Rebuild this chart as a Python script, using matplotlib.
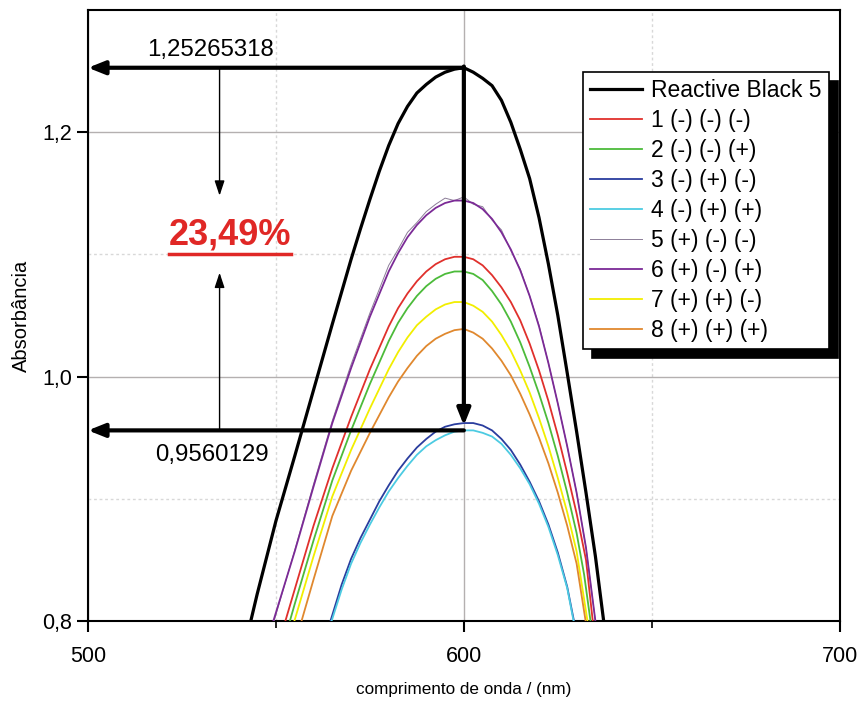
import matplotlib.pyplot as plt
from matplotlib.ticker import FixedLocator, FuncFormatter

plt.rcParams['font.family'] = ['Liberation Sans', 'DejaVu Sans']

# Reactive Black 5 (reference dye)
wl_rb5 = [543.3, 545, 550, 555, 560, 565, 570, 572.5, 575, 577.5, 580, 582.5, 585,
          587.5, 590, 592.5, 595, 597.5, 600, 602.5, 605, 607.5, 610, 612.5, 615,
          617.5, 620, 622.5, 625, 627.5, 630, 632.5, 635, 637.2]
abs_rb5 = [0.800, 0.822, 0.882, 0.935, 0.989, 1.043, 1.096, 1.121, 1.145, 1.168,
           1.189, 1.207, 1.221, 1.232, 1.239, 1.245, 1.249, 1.2515, 1.2527, 1.249,
           1.244, 1.238, 1.226, 1.208, 1.186, 1.162, 1.130, 1.092, 1.050, 1.003,
           0.955, 0.905, 0.853, 0.800]

wl_1 = [552.5, 555, 560, 565, 570, 575, 580, 582.5, 585, 587.5, 590, 592.5, 595,
        597.5, 600, 602.5, 605, 607.5, 610, 612.5, 615, 617.5, 620, 622.5, 625,
        627.5, 630, 632.5, 634.3]
abs_1 = [0.800, 0.826, 0.878, 0.925, 0.967, 1.006, 1.041, 1.056, 1.068, 1.078,
         1.086, 1.092, 1.096, 1.098, 1.098, 1.096, 1.091, 1.083, 1.073, 1.061,
         1.046, 1.027, 1.005, 0.980, 0.952, 0.921, 0.888, 0.850, 0.800]

wl_2 = [553.7, 555, 560, 565, 570, 575, 580, 582.5, 585, 587.5, 590, 592.5, 595,
        597.5, 600, 602.5, 605, 607.5, 610, 612.5, 615, 617.5, 620, 622.5, 625,
        627.5, 630, 632, 633.7]
abs_2 = [0.800, 0.814, 0.866, 0.915, 0.956, 0.994, 1.029, 1.044, 1.056, 1.066,
         1.074, 1.080, 1.084, 1.086, 1.086, 1.084, 1.079, 1.070, 1.059, 1.045,
         1.028, 1.008, 0.986, 0.962, 0.935, 0.905, 0.872, 0.838, 0.800]

wl_3 = [564.5, 567.5, 570, 572.5, 575, 577.5, 580, 582.5, 585, 587.5, 590, 592.5,
        595, 597.5, 600, 602.5, 605, 607.5, 610, 612.5, 615, 617.5, 620, 622.5,
        625, 627.5, 629.3]
abs_3 = [0.800, 0.830, 0.851, 0.868, 0.883, 0.898, 0.911, 0.923, 0.933, 0.942,
         0.949, 0.955, 0.959, 0.961, 0.962, 0.962, 0.960, 0.956, 0.949, 0.940,
         0.928, 0.914, 0.898, 0.879, 0.856, 0.828, 0.800]

wl_4 = [564.8, 567.5, 570, 572.5, 575, 577.5, 580, 582.5, 585, 587.5, 590, 592.5,
        595, 597.5, 600, 602.5, 605, 607.5, 610, 612.5, 615, 617.5, 620, 622.5,
        625, 627.5, 629.2]
abs_4 = [0.800, 0.826, 0.847, 0.864, 0.879, 0.893, 0.906, 0.917, 0.927, 0.936,
         0.943, 0.948, 0.952, 0.955, 0.956, 0.956, 0.954, 0.951, 0.945, 0.936,
         0.925, 0.912, 0.896, 0.877, 0.854, 0.827, 0.800]

wl_5 = [549.5, 555, 560, 565, 570, 575, 580, 582.5, 585, 587.5, 590, 592.5, 595,
        597.5, 600, 602.5, 605, 607.5, 610, 612.5, 615, 617.5, 620, 622.5, 625,
        627.5, 630, 632.5, 635]
abs_5 = [0.800, 0.858, 0.912, 0.964, 1.010, 1.052, 1.091, 1.104, 1.118, 1.126,
         1.135, 1.141, 1.146, 1.144, 1.147, 1.141, 1.139, 1.128, 1.120, 1.103,
         1.088, 1.066, 1.042, 1.011, 0.978, 0.943, 0.905, 0.860, 0.800]

wl_6 = [549.3, 555, 560, 565, 570, 575, 580, 582.5, 585, 587.5, 590, 592.5, 595,
        597.5, 600, 602.5, 605, 607.5, 610, 612.5, 615, 617.5, 620, 622.5, 625,
        627.5, 630, 632.5, 635]
abs_6 = [0.800, 0.857, 0.910, 0.962, 1.007, 1.049, 1.086, 1.101, 1.114, 1.124,
         1.132, 1.138, 1.142, 1.144, 1.144, 1.142, 1.137, 1.129, 1.118, 1.104,
         1.087, 1.066, 1.041, 1.011, 0.978, 0.943, 0.905, 0.860, 0.800]

wl_7 = [554.9, 560, 565, 570, 575, 580, 582.5, 585, 587.5, 590, 592.5, 595, 597.5,
        600, 602.5, 605, 607.5, 610, 612.5, 615, 617.5, 620, 622.5, 625, 627.5,
        630, 632.9]
abs_7 = [0.800, 0.853, 0.902, 0.940, 0.974, 1.006, 1.020, 1.032, 1.042, 1.049,
         1.055, 1.059, 1.061, 1.061, 1.058, 1.053, 1.045, 1.034, 1.021, 1.005,
         0.987, 0.966, 0.943, 0.917, 0.889, 0.857, 0.800]

wl_8 = [556.8, 560, 565, 570, 575, 580, 582.5, 585, 587.5, 590, 592.5, 595, 597.5,
        600, 602.5, 605, 607.5, 610, 612.5, 615, 617.5, 620, 622.5, 625, 627.5,
        630, 632.4]
abs_8 = [0.800, 0.834, 0.886, 0.923, 0.954, 0.983, 0.996, 1.007, 1.017, 1.025,
         1.031, 1.035, 1.038, 1.039, 1.036, 1.031, 1.023, 1.013, 1.001, 0.986,
         0.969, 0.950, 0.929, 0.905, 0.878, 0.847, 0.800]

labels = ['1 (-) (-) (-)', '2 (-) (-) (+)', '3 (-) (+) (-)', '4 (-) (+) (+)',
          '5 (+) (-) (-)', '6 (+) (-) (+)', '7 (+) (+) (-)', '8 (+) (+) (+)']
colors = ['#e0302c', '#4cbb3a', '#2a3d9e', '#4ccbe2', '#8c7d98', '#7b2a96',
          '#f2ee00', '#e0882e']
widths = [1.3, 1.3, 1.3, 1.3, 0.7, 1.3, 1.3, 1.3]
series = [(wl_1, abs_1), (wl_2, abs_2), (wl_3, abs_3), (wl_4, abs_4),
          (wl_5, abs_5), (wl_6, abs_6), (wl_7, abs_7), (wl_8, abs_8)]

peak_max = 1.25265318
peak_min = 0.9560129
peak_wl = 600
reduction = '23,49%'

fig, ax = plt.subplots(figsize=(8.63, 7.05), dpi=100)
plt.subplots_adjust(left=0.102, right=0.973, bottom=0.119, top=0.986)

ax.plot(wl_rb5, abs_rb5, color='black', lw=2.3, label='Reactive Black 5', zorder=3)
for (x, y), lab, c, w in zip(series, labels, colors, widths):
    ax.plot(x, y, color=c, lw=w, label=lab, zorder=3)

ax.set_xlim(500, 700)
ax.set_ylim(0.8, 1.3)
ax.xaxis.set_major_locator(FixedLocator([500, 600, 700]))
ax.xaxis.set_minor_locator(FixedLocator([550, 650]))
ax.yaxis.set_major_locator(FixedLocator([0.8, 1.0, 1.2]))
ax.yaxis.set_minor_locator(FixedLocator([0.9, 1.1]))
ax.yaxis.set_major_formatter(FuncFormatter(lambda v, p: f'{v:.1f}'.replace('.', ',')))
ax.tick_params(which='major', direction='out', length=8, width=1.5, labelsize=15.5)
ax.tick_params(axis='x', which='major', pad=10)
ax.tick_params(which='minor', direction='out', length=5, width=1.2)
ax.tick_params(axis='y', which='minor', length=0)
ax.grid(which='major', color='#b4b0b0', lw=1.0, ls='-', zorder=0)
ax.grid(which='minor', color='#d8d8d8', lw=1.0, ls=(0, (2, 2)), zorder=0)
for s in ax.spines.values():
    s.set_linewidth(1.5)

ax.set_xlabel('comprimento de onda / (nm)', fontsize=12.3, labelpad=11)
ax.set_ylabel('Absorbância', fontsize=14.5, labelpad=8)

# thick arrows marking the two maxima
thick = dict(arrowstyle='-|>,head_length=0.5,head_width=0.2', lw=3, color='black',
             mutation_scale=20, shrinkA=0, shrinkB=0)
ax.annotate('', xy=(500, peak_max), xytext=(peak_wl, peak_max), arrowprops=thick, zorder=5)
ax.annotate('', xy=(peak_wl, peak_min + 0.004), xytext=(peak_wl, peak_max + 0.001),
            arrowprops=thick, zorder=5)
ax.annotate('', xy=(500, peak_min), xytext=(peak_wl, peak_min), arrowprops=thick, zorder=5)

thin = dict(arrowstyle='-|>,head_length=0.9,head_width=0.3', lw=1, color='black',
            mutation_scale=10, shrinkA=0, shrinkB=0)
ax.annotate('', xy=(535, 1.148), xytext=(535, peak_max), arrowprops=thin)
ax.annotate('', xy=(535, 1.085), xytext=(535, peak_min), arrowprops=thin)

ax.text(532.7, 1.267, '1,25265318', fontsize=17.3, ha='center', va='center')
ax.text(533, 0.9355, '0,9560129', fontsize=17.3, ha='center', va='center')
pct = ax.text(537.8, 1.1155, reduction, fontsize=26, fontweight='bold', color='#e02826',
              ha='center', va='center')

leg = ax.legend(loc='upper left', bbox_to_anchor=(0.658, 0.8985), borderaxespad=0,
                fontsize=16.5, frameon=True, fancybox=False, edgecolor='black',
                handlelength=2.3, handletextpad=0.4, labelspacing=0.305,
                borderpad=0.3, framealpha=1,
                shadow={'ox': 6.5, 'oy': -6.5, 'color': 'black', 'alpha': 1})
leg.get_frame().set_linewidth(1.2)
leg.set_zorder(6)

# underline the percentage, spanning the text width
fig.canvas.draw()
bb = pct.get_window_extent().transformed(ax.transData.inverted())
ax.plot([bb.x0, bb.x1], [1.1, 1.1], color='#e02826', lw=2.5)

fig.savefig('out.png', dpi=100)
